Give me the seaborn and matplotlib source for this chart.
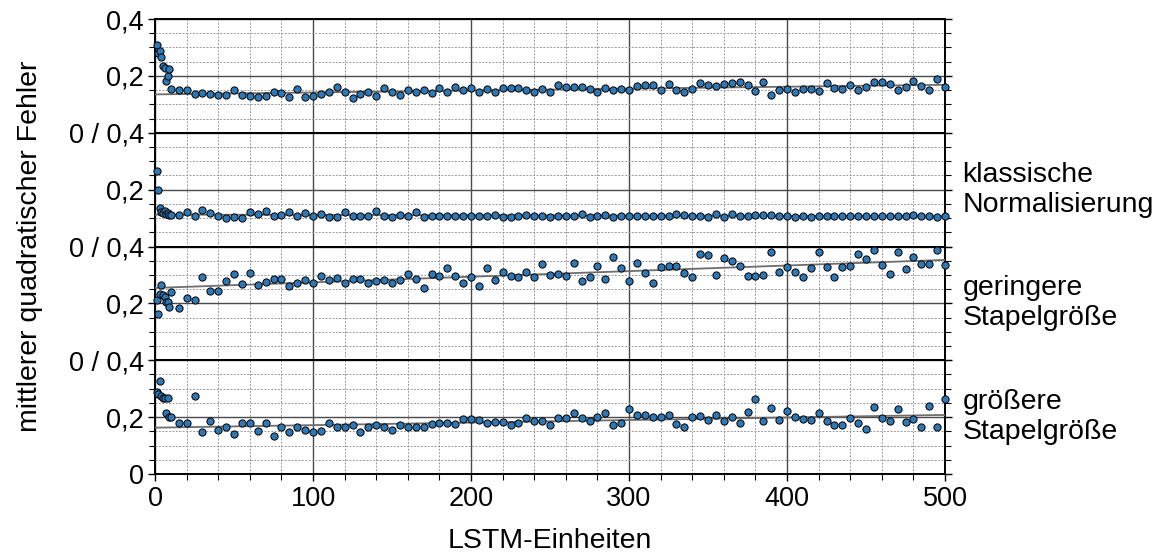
import numpy as np
import pandas as pd
import matplotlib
matplotlib.use("Agg")
import matplotlib.pyplot as plt
from matplotlib.ticker import MultipleLocator
import seaborn as sns

# LSTM-Einheiten: 1..10, danach in 5er-Schritten
lstm_units = list(range(1, 11)) + list(range(15, 505, 5))

mse_basis = [
    0.308, 0.282, 0.288, 0.267, 0.233, 0.229, 0.182, 0.198, 0.225, 0.154,
    0.150, 0.152, 0.136, 0.140, 0.138, 0.132, 0.132, 0.151, 0.133, 0.130,
    0.126, 0.129, 0.144, 0.139, 0.124, 0.155, 0.127, 0.129, 0.135, 0.144,
    0.160, 0.143, 0.121, 0.135, 0.145, 0.130, 0.156, 0.143, 0.133, 0.151,
    0.144, 0.152, 0.139, 0.156, 0.144, 0.162, 0.150, 0.158, 0.145, 0.155,
    0.143, 0.158, 0.156, 0.156, 0.151, 0.145, 0.155, 0.144,
    0.168, 0.162, 0.161, 0.160, 0.155, 0.144, 0.156, 0.150, 0.155, 0.149,
    0.164, 0.168, 0.169, 0.149, 0.170, 0.152, 0.144, 0.155, 0.174, 0.167,
    0.163, 0.170, 0.175, 0.180, 0.167, 0.146, 0.177, 0.132, 0.151, 0.154,
    0.145, 0.155, 0.155, 0.148, 0.175, 0.158, 0.155, 0.169, 0.151, 0.162,
    0.177, 0.179, 0.170, 0.151, 0.161, 0.183, 0.165, 0.151, 0.188, 0.162,
]

mse_klassisch = [
    0.265, 0.200, 0.135, 0.121, 0.119, 0.124, 0.113, 0.119, 0.112, 0.112,
    0.111, 0.122, 0.106, 0.127, 0.119, 0.109, 0.101, 0.102, 0.100, 0.122,
    0.116, 0.125, 0.107, 0.111, 0.122, 0.108, 0.119, 0.107, 0.113, 0.105,
    0.102, 0.121, 0.108, 0.109, 0.108, 0.125, 0.106, 0.104, 0.111, 0.107,
    0.121, 0.104, 0.107, 0.107, 0.108, 0.108, 0.107, 0.107, 0.109, 0.108,
    0.111, 0.105, 0.105, 0.107, 0.112, 0.109, 0.109, 0.105,
    0.108, 0.108, 0.106, 0.115, 0.105, 0.108, 0.111, 0.105, 0.107, 0.107,
    0.107, 0.107, 0.107, 0.107, 0.107, 0.114, 0.111, 0.108, 0.106, 0.104,
    0.114, 0.105, 0.116, 0.107, 0.107, 0.111, 0.112, 0.111, 0.107, 0.106,
    0.105, 0.108, 0.105, 0.108, 0.107, 0.106, 0.107, 0.108, 0.109, 0.107,
    0.107, 0.106, 0.107, 0.108, 0.109, 0.112, 0.107, 0.107, 0.105, 0.108,
]

mse_geringer = [
    0.213, 0.161, 0.234, 0.264, 0.228, 0.221, 0.206, 0.204, 0.188, 0.241,
    0.185, 0.220, 0.213, 0.292, 0.244, 0.244, 0.277, 0.302, 0.269, 0.307,
    0.263, 0.275, 0.286, 0.286, 0.260, 0.273, 0.282, 0.273, 0.297, 0.283,
    0.288, 0.272, 0.285, 0.285, 0.273, 0.278, 0.283, 0.271, 0.282, 0.302,
    0.284, 0.253, 0.302, 0.298, 0.323, 0.298, 0.271, 0.293, 0.260, 0.324,
    0.283, 0.310, 0.298, 0.292, 0.312, 0.292, 0.337, 0.300,
    0.305, 0.297, 0.342, 0.280, 0.293, 0.333, 0.285, 0.362, 0.324, 0.279,
    0.341, 0.307, 0.273, 0.328, 0.333, 0.331, 0.307, 0.293, 0.373, 0.369,
    0.301, 0.361, 0.348, 0.331, 0.295, 0.296, 0.299, 0.382, 0.309, 0.328,
    0.310, 0.292, 0.323, 0.382, 0.327, 0.293, 0.329, 0.331, 0.373, 0.357,
    0.388, 0.335, 0.303, 0.381, 0.321, 0.362, 0.340, 0.339, 0.388, 0.335,
]

mse_groesser = [
    0.289, 0.281, 0.328, 0.276, 0.267, 0.268, 0.215, 0.267, 0.201, 0.199,
    0.178, 0.178, 0.273, 0.146, 0.188, 0.156, 0.164, 0.139, 0.178, 0.180,
    0.151, 0.181, 0.132, 0.164, 0.149, 0.165, 0.154, 0.149, 0.152, 0.181,
    0.164, 0.164, 0.173, 0.149, 0.167, 0.171, 0.164, 0.155, 0.173, 0.167,
    0.167, 0.165, 0.175, 0.178, 0.179, 0.175, 0.195, 0.195, 0.191, 0.181,
    0.182, 0.184, 0.172, 0.179, 0.198, 0.185, 0.188, 0.172,
    0.198, 0.196, 0.214, 0.198, 0.188, 0.201, 0.215, 0.172, 0.179, 0.229,
    0.209, 0.208, 0.201, 0.201, 0.207, 0.176, 0.165, 0.201, 0.204, 0.191,
    0.209, 0.188, 0.201, 0.180, 0.218, 0.264, 0.186, 0.231, 0.189, 0.221,
    0.201, 0.194, 0.189, 0.214, 0.186, 0.171, 0.174, 0.196, 0.178, 0.160,
    0.234, 0.198, 0.187, 0.227, 0.184, 0.193, 0.166, 0.238, 0.167, 0.262,
]

series = [mse_basis, mse_klassisch, mse_geringer, mse_groesser]
panel_labels = ["", "klassische\nNormalisierung", "geringere\nStapelgröße", "größere\nStapelgröße"]


def main():
    sns.set_theme(style="white")
    plt.rcParams['font.family'] = ['Liberation Sans', 'DejaVu Sans']
    plt.rcParams['text.color'] = 'black'
    plt.rcParams['axes.labelcolor'] = 'black'
    plt.rcParams['xtick.color'] = 'black'
    plt.rcParams['ytick.color'] = 'black'

    fig, axes = plt.subplots(4, 1, figsize=(11.7, 5.54), dpi=100, sharex=True)
    fig.subplots_adjust(left=0.1325, right=0.8077, top=0.9657, bottom=0.1444, hspace=0)

    x = np.array(lstm_units)
    for i, (ax, y, label) in enumerate(zip(axes, series, panel_labels)):
        df = pd.DataFrame({"units": x, "mse": y})

        # Gitter
        ax.xaxis.set_major_locator(MultipleLocator(100))
        ax.xaxis.set_minor_locator(MultipleLocator(20))
        ax.yaxis.set_major_locator(MultipleLocator(0.2))
        ax.yaxis.set_minor_locator(MultipleLocator(0.05))
        ax.grid(which="minor", color="#9a9a9a", linestyle=(0, (2, 1.5)), linewidth=0.7)
        ax.grid(which="major", color="#4a4a4a", linestyle="-", linewidth=1.0)
        ax.set_axisbelow(True)

        # lineare Trendlinie (ab 15 Einheiten)
        mask = x >= 15
        k, d = np.polyfit(x[mask], np.array(y)[mask], 1)
        xl = np.array([0, 500])
        sns.lineplot(x=xl, y=k * xl + d, ax=ax, color="#6e6e6e", linewidth=1.3, zorder=3)

        sns.scatterplot(data=df, x="units", y="mse", ax=ax, s=27, color="#2f78b6",
                        edgecolor="black", linewidth=0.7, zorder=4, clip_on=False)

        ax.set_xlim(0, 500)
        ax.set_ylim(0, 0.4)
        ax.set_ylabel("")
        ax.set_xlabel("")

        for sp in ax.spines.values():
            sp.set_color("black")
            sp.set_linewidth(1.4)

        ax.tick_params(axis="y", which="both", left=True, right=True, direction="out",
                       labelsize=19.5, color="black", pad=3)
        ax.tick_params(axis="y", which="major", length=5, width=1)
        ax.tick_params(axis="y", which="minor", length=4, width=0.8)
        ax.tick_params(axis="x", which="both", bottom=(i == 3), direction="out",
                       labelsize=19.5, color="black")
        ax.tick_params(axis="x", which="major", length=5, width=1)
        ax.tick_params(axis="x", which="minor", length=4, width=0.8)

        if i == 0:
            ax.set_yticks([0.2, 0.4])
            ax.set_yticklabels(["0,2", "0,4"])
        elif i == 3:
            ax.set_yticks([0, 0.2, 0.4])
            ax.set_yticklabels(["0", "0,2", "0 / 0,4"])
        else:
            ax.set_yticks([0.2, 0.4])
            ax.set_yticklabels(["0,2", "0 / 0,4"])

        if label:
            ax.text(1.022, 0.5, label, transform=ax.transAxes, ha="left", va="center",
                    fontsize=20.5, linespacing=1.2)

    axes[-1].set_xticks([0, 100, 200, 300, 400, 500])
    axes[-1].set_xticklabels(["0", "100", "200", "300", "400", "500"])
    axes[-1].set_xlabel("LSTM-Einheiten", fontsize=20.5, labelpad=12)
    fig.text(0.026, 0.555, "mittlerer quadratischer Fehler", rotation=90,
             ha="center", va="center", fontsize=20.5)

    plt.savefig("out.png", dpi=100)
    plt.close()


if __name__ == "__main__":
    main()
